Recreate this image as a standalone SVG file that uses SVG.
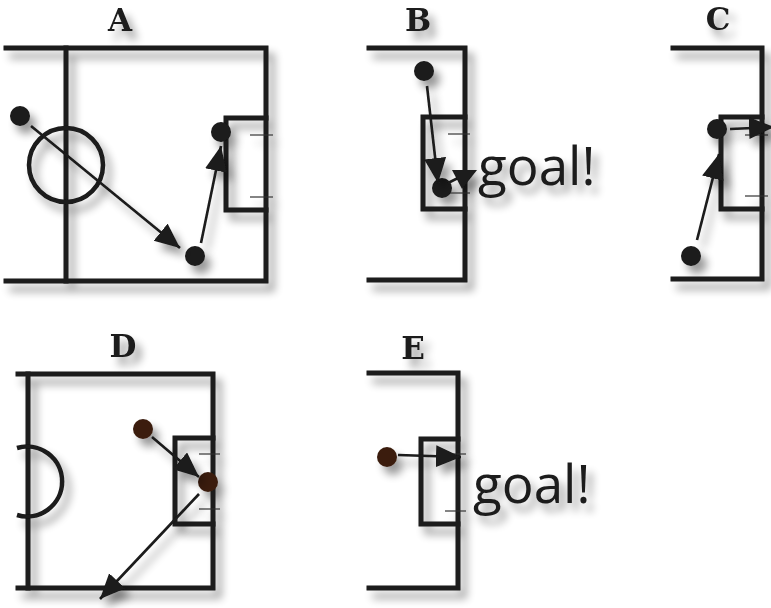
<svg xmlns="http://www.w3.org/2000/svg" width="771" height="608" viewBox="0 0 771 608">
<defs>
<filter id="sh" x="-20%" y="-20%" width="140%" height="140%">
<feGaussianBlur in="SourceAlpha" stdDeviation="4"/>
<feOffset dx="6" dy="8" result="b"/>
<feComponentTransfer><feFuncA type="linear" slope="0.4"/></feComponentTransfer>
<feMerge><feMergeNode/><feMergeNode in="SourceGraphic"/></feMerge>
</filter>
<marker id="ah" markerUnits="userSpaceOnUse" markerWidth="28" markerHeight="24" refX="25" refY="11" orient="auto">
<path d="M0,0 L25,11 L0,22 z" fill="#1a1a1a"/>
</marker>
</defs>
<style>
.f{fill:none;stroke:#1a1a1a;stroke-width:5;stroke-linejoin:miter;stroke-linecap:square}
.c{fill:none;stroke:#1a1a1a;stroke-width:4.5}
.t{stroke:#333;stroke-width:1.2}
.d{fill:#1a1a1a}
.br{fill:#3b1e10}
.ar{stroke:#1a1a1a;stroke-width:2.6;fill:none;marker-end:url(#ah)}
.ti{font-family:"DejaVu Serif","Liberation Serif",serif;font-weight:bold;font-size:31px;fill:#1a1a1a;text-anchor:middle}
.g{font-family:"Open Sans","Noto Sans",sans-serif;font-size:53px;fill:#1a1a1a}
</style>

<g id="panelA" filter="url(#sh)">
<text class="ti" x="120" y="31">A</text>
<path class="f" d="M6,48 H266 V281 H6"/>
<line class="f" x1="66" y1="48" x2="66" y2="281"/>
<circle class="c" cx="66" cy="165" r="37"/>
<path class="f" d="M266,118 H226 V210 H266"/>
<line class="t" x1="250" y1="135" x2="273" y2="135"/>
<line class="t" x1="250" y1="197" x2="273" y2="197"/>
<circle class="d" cx="20" cy="116" r="10"/>
<circle class="d" cx="195" cy="256" r="10"/>
<circle class="d" cx="221" cy="132" r="10"/>
</g>

<g id="panelB" filter="url(#sh)">
<text class="ti" x="418" y="31">B</text>
<path class="f" d="M369,48 H465 V280 H369"/>
<path class="f" d="M465,117 H423 V209 H465"/>
<line class="t" x1="448" y1="134" x2="470" y2="134"/>
<line class="t" x1="448" y1="193" x2="470" y2="193"/>
<circle class="d" cx="424" cy="71" r="10"/>
<circle class="d" cx="442" cy="188" r="10"/>
<text class="g" x="478" y="185">goal!</text>
</g>

<g id="panelC" filter="url(#sh)">
<text class="ti" x="718" y="30">C</text>
<path class="f" d="M673,48 H762 V279 H673"/>
<path class="f" d="M762,117 H721 V209 H762"/>
<line class="t" x1="745" y1="135" x2="768" y2="135"/>
<line class="t" x1="745" y1="196" x2="768" y2="196"/>
<circle class="d" cx="717" cy="129" r="10"/>
<circle class="d" cx="691" cy="256" r="10"/>
</g>

<g id="panelD" filter="url(#sh)">
<text class="ti" x="123" y="357">D</text>
<path class="f" d="M18,374 H213 V588 H18"/>
<line class="f" x1="28" y1="374" x2="28" y2="588"/>
<path class="c" d="M17,448 A35,35 0 1 1 17,515"/>
<path class="f" d="M213,438 H175 V524 H213"/>
<line class="t" x1="199" y1="454" x2="220" y2="454"/>
<line class="t" x1="199" y1="509" x2="220" y2="509"/>
<circle class="br" cx="143" cy="429" r="10"/>
<circle class="br" cx="208" cy="482" r="10"/>
</g>

<g id="panelE" filter="url(#sh)">
<text class="ti" x="413" y="359">E</text>
<path class="f" d="M369,373 H458 V588 H369"/>
<path class="f" d="M458,439 H421 V524 H458"/>
<line class="t" x1="445" y1="454" x2="466" y2="454"/>
<line class="t" x1="445" y1="511" x2="466" y2="511"/>
<circle class="br" cx="387" cy="457" r="10"/>
<text class="g" x="473" y="503">goal!</text>
</g>

<g id="connectors" filter="url(#sh)">
<line class="ar" x1="31" y1="126" x2="180" y2="248"/>
<line class="ar" x1="201" y1="243" x2="221" y2="146"/>
<line class="ar" x1="427" y1="86" x2="438" y2="183"/>
<line x1="448" y1="183" x2="458" y2="178" stroke="#1a1a1a" stroke-width="2.6"/>
<polygon points="452,170 477,170 462,189" fill="#1a1a1a"/>
<line class="ar" x1="697" y1="240" x2="719" y2="154"/>
<line class="ar" x1="730" y1="129" x2="774" y2="127"/>
<line class="ar" x1="152" y1="437" x2="199" y2="477"/>
<line class="ar" x1="199" y1="494" x2="100" y2="599"/>
<line class="ar" x1="398" y1="455" x2="461" y2="457"/>
</g>
</svg>
